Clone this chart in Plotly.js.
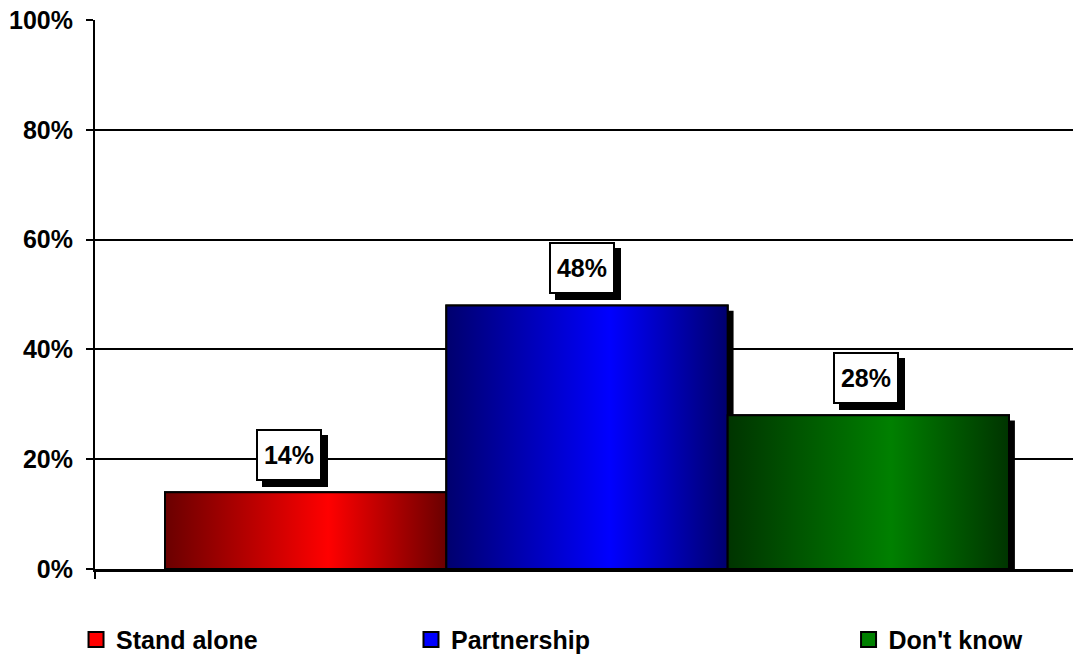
<!DOCTYPE html>
<html>
<head>
<meta charset="utf-8">
<script src="https://cdn.plot.ly/plotly-3.0.1.min.js"></script>
<style>html,body{margin:0;padding:0;background:#fff;}#chart{width:1073px;height:656px;}</style>
</head>
<body>
<div id="chart"></div>
<script>
// ---- data ----
var categories = ["Stand alone", "Partnership", "Don't know"];
var values = [14, 48, 28];
var yTickValues = [0, 20, 40, 60, 80, 100];
var yTickLabels = ["0%", "20%", "40%", "60%", "80%", "100%"];

// ---- styles ----
var brightColors = ["#ff0000", "#0000ff", "#008000"];
var darkColors = ["#6a0000", "#00006e", "#003400"];
var legendIds = ["legend", "legend2", "legend3"];
var legendX = [-0.0194, 0.3231, 0.7705];
var labelShiftX = [-17, -5, -2];
var FONT = "'Liberation Sans', Arial, Helvetica, sans-serif";
var XR = [-0.2488, 3.2275];
var shadowDx = 0.021;   // ~6 px
var shadowDy = 0.95;    // ~5 px

var traces = [];
// solid base bars
categories.forEach(function (c, i) {
  traces.push({
    type: "bar", name: c, x: [i + 0.5], y: [values[i]], width: [1],
    marker: {color: brightColors[i], line: {color: "#000", width: 2}},
    showlegend: false, hoverinfo: "skip"
  });
});
// legend entries (square keys)
categories.forEach(function (c, i) {
  traces.push({
    type: "scatter", mode: "markers", name: c, x: [null], y: [null],
    marker: {symbol: "square", size: 15, color: brightColors[i], line: {color: "#000", width: 2}},
    legend: legendIds[i], hoverinfo: "skip"
  });
});
// shadows + gradient overlays
categories.forEach(function (c, i) {
  var v = values[i];
  traces.push({
    type: "scatter", mode: "lines", showlegend: false, hoverinfo: "skip",
    x: [i + shadowDx, i + shadowDx, i + 1 + shadowDx, i + 1 + shadowDx, i + shadowDx],
    y: [0, v - shadowDy, v - shadowDy, 0, 0],
    fill: "toself", fillcolor: "#000", line: {width: 0, color: "#000"}
  });
  traces.push({
    type: "scatter", mode: "lines", showlegend: false, hoverinfo: "skip",
    x: [i, i, i + 1, i + 1, i],
    y: [0, v, v, 0, 0],
    fill: "toself", fillcolor: brightColors[i],
    fillgradient: {type: "horizontal",
      colorscale: [[0, darkColors[i]], [0.58, brightColors[i]], [1, darkColors[i]]]},
    line: {width: 2, color: "#000"}
  });
});

var annotations = [];
categories.forEach(function (c, i) {
  var common = {
    x: i + 0.5, y: values[i], xref: "x", yref: "y", showarrow: false,
    yanchor: "bottom", xanchor: "center",
    width: 58, height: 44, borderpad: 2, borderwidth: 2,
    font: {family: FONT, size: 25, color: "#000", weight: 700}
  };
  // box shadow (no text)
  annotations.push(Object.assign({}, common, {
    text: "\u00a0", bgcolor: "#000", bordercolor: "#000",
    xshift: labelShiftX[i] + 6, yshift: 11 - 6
  }));
  annotations.push(Object.assign({}, common, {
    text: values[i] + "%", bgcolor: "#fff", bordercolor: "#000",
    xshift: labelShiftX[i], yshift: 11
  }));
});

var legendFont = {family: FONT, size: 25, color: "#000", weight: 700};
function mkLegend(xp) {
  return {x: xp, y: -0.129, xanchor: "left", yanchor: "middle", orientation: "h",
    font: legendFont, bgcolor: "rgba(0,0,0,0)", borderwidth: 0, itemclick: false, itemdoubleclick: false};
}

var layout = {
  width: 1073, height: 656,
  margin: {l: 95, r: 0, t: 20, b: 87, pad: 0, autoexpand: false},
  paper_bgcolor: "#fff", plot_bgcolor: "#fff",
  showlegend: true,
  barmode: "overlay",
  xaxis: {type: "linear", range: XR, showgrid: false, zeroline: false,
    showline: true, linecolor: "#000", linewidth: 3,
    tickmode: "array", tickvals: [XR[0]], ticks: "outside", ticklen: 7, tickwidth: 2, tickcolor: "#000",
    showticklabels: false, fixedrange: true},
  yaxis: {range: [0, 100], tickmode: "array", tickvals: yTickValues, ticktext: yTickLabels,
    showgrid: true, gridcolor: "#000", gridwidth: 2, zeroline: false,
    showline: true, linecolor: "#000", linewidth: 2,
    ticks: "outside", ticklen: 7, tickwidth: 2, tickcolor: "#000",
    ticklabelstandoff: 8,
    tickfont: {family: FONT, size: 25, color: "#000", weight: 700}, fixedrange: true},
  legend: mkLegend(legendX[0]),
  legend2: mkLegend(legendX[1]),
  legend3: mkLegend(legendX[2]),
  annotations: annotations
};

Plotly.newPlot("chart", traces, layout, {displayModeBar: false, staticPlot: true});
</script>
</body>
</html>
